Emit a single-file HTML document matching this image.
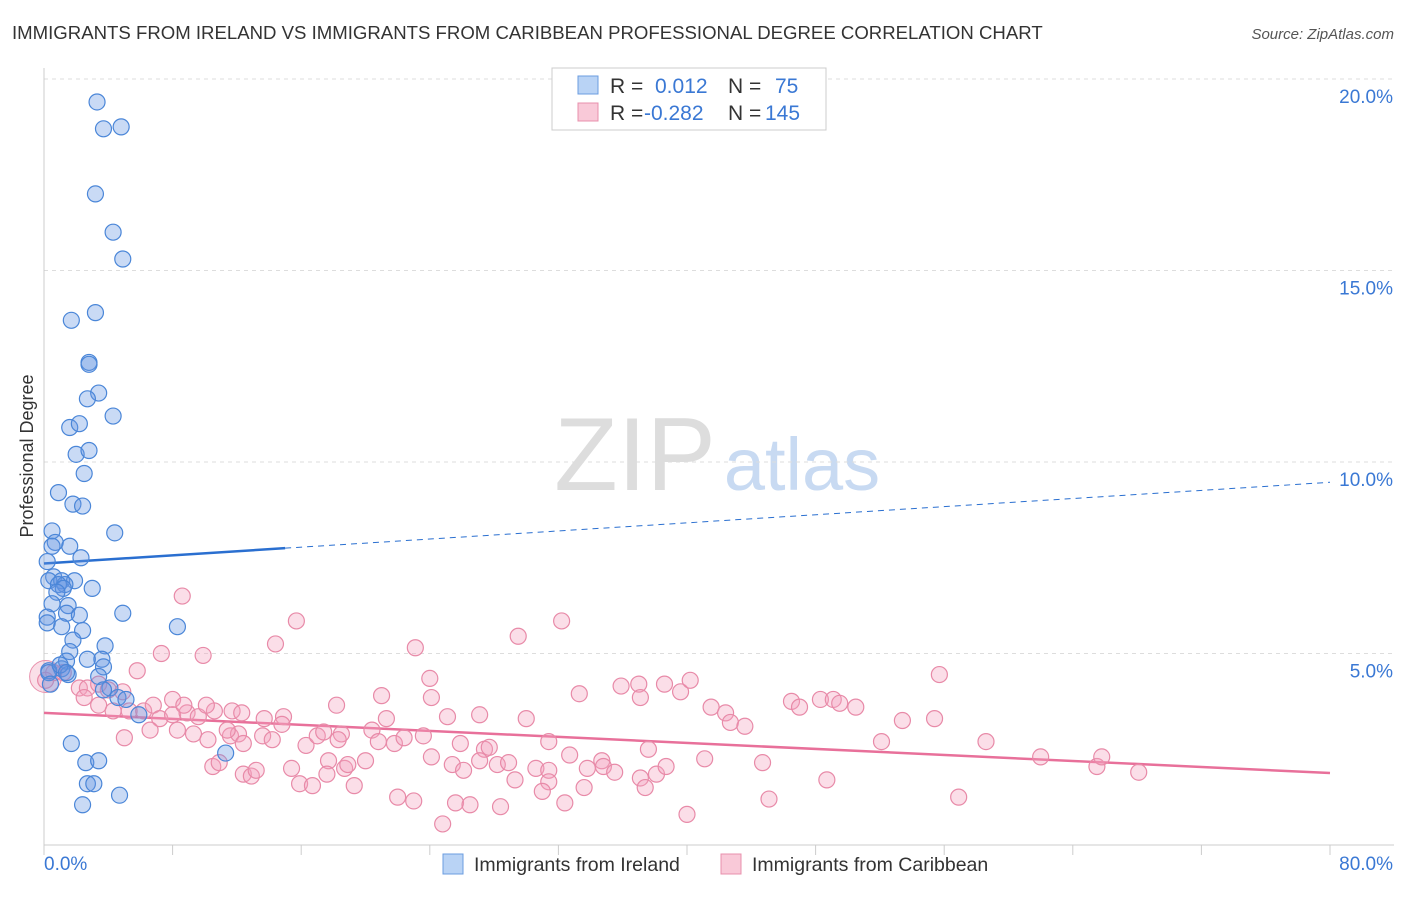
<!DOCTYPE html>
<html><head><meta charset="utf-8"><style>
body{margin:0;background:#fff;font-family:"Liberation Sans",sans-serif;}
svg text{font-family:"Liberation Sans",sans-serif;}
</style></head><body>
<svg id="chart" width="1406" height="892" viewBox="0 0 1406 892" xmlns="http://www.w3.org/2000/svg">
<text x="12" y="39" font-size="18.6" fill="#333">IMMIGRANTS FROM IRELAND VS IMMIGRANTS FROM CARIBBEAN PROFESSIONAL DEGREE CORRELATION CHART</text>
<text x="1394" y="39" font-size="15" fill="#555" text-anchor="end" font-style="italic">Source: ZipAtlas.com</text>
<text transform="translate(33,456) rotate(-90)" font-size="18" fill="#333" text-anchor="middle">Professional Degree</text>
<g>
<text x="635" y="490" font-size="104" fill="#ddd" text-anchor="middle" font-family="Liberation Serif">ZIP</text>
<text x="802" y="490" font-size="74" fill="#c8daf2" text-anchor="middle">atlas</text>
</g>
<g id="grid"></g><g id="axes"></g><g id="trends"></g><g id="points"></g>
<g>
<rect x="552" y="68" width="274" height="62" fill="#fff" stroke="#ccc"/>
<rect x="578" y="76" width="20" height="18" fill="#b9d3f5" stroke="#6b9de0"/>
<text x="610" y="93" font-size="21" fill="#333">R =</text><text x="655" y="93" font-size="21" fill="#3a78d4">0.012</text>
<text x="728" y="93" font-size="21" fill="#333">N =</text><text x="775" y="93" font-size="21" fill="#3a78d4">75</text>
<rect x="578" y="103" width="20" height="18" fill="#f9c9d8" stroke="#e890ac"/>
<text x="610" y="120" font-size="21" fill="#333">R =</text><text x="644" y="120" font-size="21" fill="#3a78d4">-0.282</text>
<text x="728" y="120" font-size="21" fill="#333">N =</text><text x="765" y="120" font-size="21" fill="#3a78d4">145</text>
</g>
<g>
<rect x="443" y="854" width="20" height="20" fill="#b9d3f5" stroke="#6b9de0"/>
<text x="474" y="871" font-size="19.5" fill="#333">Immigrants from Ireland</text>
<rect x="721" y="854" width="20" height="20" fill="#f9c9d8" stroke="#e890ac"/>
<text x="752" y="871" font-size="19.5" fill="#333">Immigrants from Caribbean</text>
</g>
</svg>
<script>
const yTicks=[5,10,15,20];
const yTickLabels=["5.0%","10.0%","15.0%","20.0%"];
const xTickLabels=["0.0%","80.0%"];
const irelandX=[3.3,3.7,4.8,3.2,4.3,4.9,1.7,3.2,2.8,2.8,3.4,2.7,4.3,1.6,2.2,2.0,2.8,2.5,0.9,1.8,2.4,0.5,4.4,0.7,0.5,1.6,2.3,0.2,0.6,0.3,1.1,1.9,1.3,0.9,1.2,3.0,0.8,1.5,0.5,4.9,1.4,0.2,2.2,0.2,1.1,2.4,8.3,1.8,3.8,1.6,2.7,3.6,1.4,3.7,1.1,0.3,3.4,1.5,4.1,3.7,4.6,5.1,5.9,1.7,11.3,2.6,3.4,2.7,3.1,2.4,4.7,0.3,1.0,1.4,0.4];
const irelandY=[19.4,18.7,18.75,17.0,16.0,15.3,13.7,13.9,12.6,12.55,11.8,11.65,11.2,10.9,11.0,10.2,10.3,9.7,9.2,8.9,8.85,8.2,8.15,7.9,7.8,7.8,7.5,7.4,7.0,6.9,6.9,6.9,6.8,6.8,6.7,6.7,6.6,6.25,6.3,6.05,6.05,5.95,6.0,5.8,5.7,5.6,5.7,5.35,5.2,5.05,4.85,4.85,4.8,4.65,4.6,4.55,4.4,4.45,4.1,4.05,3.85,3.8,3.4,2.65,2.4,2.15,2.2,1.6,1.6,1.05,1.3,4.5,4.7,4.5,4.2];
const caribX=[8.6,15.7,14.4,23.1,29.5,32.2,7.3,9.9,5.8,24.0,55.7,1.2,0.6,0.1,2.2,2.7,3.4,4.0,4.9,2.5,3.4,4.3,5.3,6.2,6.8,7.2,8.0,8.0,8.9,9.6,10.6,11.7,12.3,13.7,14.9,14.8,18.2,21.0,24.1,25.1,27.1,30.0,33.3,35.9,37.0,37.1,38.6,39.6,40.2,41.5,42.4,42.7,43.6,46.5,47.0,48.3,49.1,49.5,50.5,53.4,55.4,52.1,58.6,62.0,65.5,65.8,68.1,5.0,6.6,8.3,9.3,10.2,11.6,12.1,12.4,13.6,14.2,16.3,17.0,17.4,18.5,21.3,20.4,20.8,21.8,22.4,23.6,25.9,27.4,27.7,31.4,32.7,34.7,37.6,41.1,44.7,10.5,10.9,12.4,12.9,13.2,15.4,15.9,16.7,17.7,17.6,18.7,18.9,19.3,20.0,18.3,24.1,25.4,26.1,27.1,28.2,28.9,29.3,30.6,31.4,31.4,33.8,34.8,35.5,37.1,38.1,38.7,33.6,37.4,22.0,23.0,25.6,26.5,28.4,31.0,32.4,45.1,48.7,56.9,24.8,40.0,8.7,10.1,11.4];
const caribY=[6.5,5.85,5.25,5.15,5.45,5.85,5.0,4.95,4.55,4.35,4.45,4.5,4.5,4.3,4.1,4.1,4.2,4.05,4.0,3.85,3.65,3.5,3.5,3.5,3.65,3.3,3.8,3.4,3.45,3.35,3.5,3.5,3.45,3.3,3.35,3.15,3.65,3.9,3.85,3.35,3.4,3.3,3.95,4.15,4.2,3.85,4.2,4.0,4.3,3.6,3.45,3.2,3.1,3.75,3.6,3.8,3.8,3.7,3.6,3.25,3.3,2.7,2.7,2.3,2.05,2.3,1.9,2.8,3.0,3.0,2.9,2.75,2.85,2.9,2.65,2.85,2.75,2.6,2.85,2.95,2.9,3.3,3.0,2.7,2.65,2.8,2.85,2.65,2.5,2.55,2.7,2.35,2.2,2.5,2.25,2.15,2.05,2.15,1.85,1.8,1.95,2.0,1.6,1.55,2.2,1.85,2.0,2.1,1.55,2.2,2.75,2.3,2.1,1.95,2.2,2.1,2.15,1.7,2.0,1.95,1.65,2.0,2.05,1.9,1.75,1.85,2.05,1.5,1.5,1.25,1.15,1.1,1.05,1.0,1.4,1.1,1.2,1.7,1.25,0.55,0.8,3.65,3.65,3.0];
const irelandTrendX=[0,15,80];
const irelandTrendY=[7.35,7.75,9.47];
const caribTrendX=[0,80];
const caribTrendY=[3.45,1.88];

const NS="http://www.w3.org/2000/svg";
const X0=44,X1=1330,Y0=845,Y20=79;
const xs=v=>X0+(X1-X0)*v/80;
const ys=v=>Y0-(Y0-Y20)*v/20;
function mk(tag,attrs,parent){const e=document.createElementNS(NS,tag);for(const k in attrs)e.setAttribute(k,attrs[k]);parent.appendChild(e);return e;}
const grid=document.getElementById('grid'),axes=document.getElementById('axes'),trends=document.getElementById('trends'),pts=document.getElementById('points');
yTicks.forEach((t,i)=>{
  const l=mk('line',{x1:X0,x2:1394,y1:ys(t),y2:ys(t),stroke:'#ddd','stroke-dasharray':'4,4'},grid);
  
  
  const tx=mk('text',{x:1393,y:ys(t)+24,'font-size':19,fill:'#3a78d4','text-anchor':'end'},axes);
  tx.textContent=yTickLabels[i];
  
  
});
const ax=mk('line',{x1:X0,x2:X0,y1:68,y2:Y0,stroke:'#ccc'},axes);


const bx=mk('line',{x1:X0,x2:1394,y1:Y0,y2:Y0,stroke:'#ccc'},axes);


for(let i=0;i<=10;i++){const t=mk('line',{x1:xs(i*8),x2:xs(i*8),y1:Y0,y2:Y0+10,stroke:'#ccc'},axes);

}
const xl0=mk('text',{x:44,y:870,'font-size':19,fill:'#3a78d4'},axes);xl0.textContent=xTickLabels[0];


const xl1=mk('text',{x:1393,y:870,'font-size':19,fill:'#3a78d4','text-anchor':'end'},axes);xl1.textContent=xTickLabels[1];


const bc=mk('circle',{cx:xs(0.1),cy:ys(4.4),r:16,fill:'rgba(240,150,180,0.3)',stroke:'#e890ac'},pts);


caribX.forEach((x,i)=>{const c=mk('circle',{cx:xs(x),cy:ys(caribY[i]),r:8,fill:'rgba(244,160,188,0.35)',stroke:'#e88aa8','stroke-width':1.2},pts);

});
irelandX.forEach((x,i)=>{const c=mk('circle',{cx:xs(x),cy:ys(irelandY[i]),r:8,fill:'rgba(100,150,225,0.35)',stroke:'#4a86d8','stroke-width':1.2},pts);

});
const t1=mk('line',{x1:xs(irelandTrendX[0]),y1:ys(irelandTrendY[0]),x2:xs(irelandTrendX[1]),y2:ys(irelandTrendY[1]),stroke:'#2a6fd0','stroke-width':2.5},trends);


const t2=mk('line',{x1:xs(irelandTrendX[1]),y1:ys(irelandTrendY[1]),x2:xs(irelandTrendX[2]),y2:ys(irelandTrendY[2]),stroke:'#2a6fd0','stroke-width':1,'stroke-dasharray':'6,5'},trends);


const t3=mk('line',{x1:xs(caribTrendX[0]),y1:ys(caribTrendY[0]),x2:xs(caribTrendX[1]),y2:ys(caribTrendY[1]),stroke:'#e8709a','stroke-width':2.5},trends);


</script>
</body></html>
